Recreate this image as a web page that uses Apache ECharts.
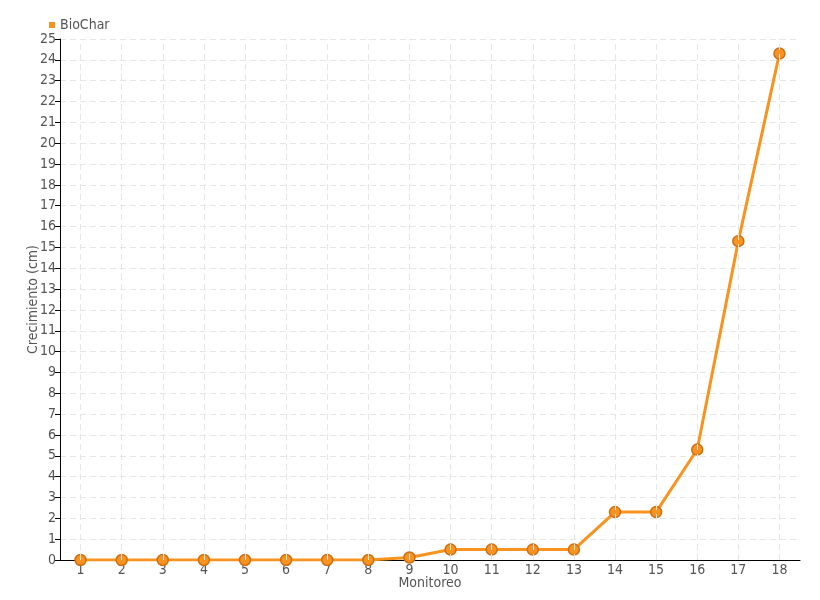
<!DOCTYPE html>
<html><head><meta charset="utf-8">
<script src="https://cdn.jsdelivr.net/npm/echarts@6/dist/echarts.min.js"></script>
<style>html,body{margin:0;padding:0;background:#fff}#c{width:820px;height:600px}</style>
</head><body><div id="c"></div>
<script>
var categories = ['1','2','3','4','5','6','7','8','9','10','11','12','13','14','15','16','17','18'];
var biochar = [0,0,0,0,0,0,0,0,0.12,0.5,0.5,0.5,0.5,2.3,2.3,5.3,15.3,24.3];
var seriesName = 'BioChar';
var FONT = "'Liberation Sans Narrow','DejaVu Sans Condensed',sans-serif";
var chart = echarts.init(document.getElementById('c'));
chart.setOption({
  animation:false,
  backgroundColor:'#fff',
  legend:{left:44,top:13,itemWidth:6,itemHeight:6,itemGap:4,icon:'rect',
    itemStyle:{borderWidth:0,color:'#f7931e'},
    textStyle:{fontFamily:FONT,fontSize:14,color:'#555'},data:[seriesName]},
  grid:{left:60,right:20,top:39,bottom:40},
  xAxis:{type:'category',data:categories,boundaryGap:true,
    name:'Monitoreo',nameLocation:'middle',nameGap:16,nameMoveOverlap:false,
    nameTextStyle:{fontFamily:FONT,fontSize:14,color:'#555'},
    axisLine:{lineStyle:{color:'#000',width:1}},
    axisTick:{alignWithLabel:true,length:5,lineStyle:{color:'#000'}},
    axisLabel:{fontFamily:FONT,fontSize:14,color:'#555',margin:3},
    splitLine:{show:false}},
  yAxis:{type:'value',min:0,max:25,interval:1,
    name:'Crecimiento (cm)',nameLocation:'middle',nameGap:20,nameMoveOverlap:false,
    nameTextStyle:{fontFamily:FONT,fontSize:14,color:'#555'},
    axisLine:{show:true,lineStyle:{color:'#000',width:1}},
    axisTick:{show:true,length:5,inside:false,lineStyle:{color:'#000'}},
    axisLabel:{fontFamily:FONT,fontSize:14,color:'#555',margin:4},
    splitLine:{lineStyle:{color:'#e6e6e6',type:[6,4],width:1}}},
  series:[
    {type:'line',name:'grid',data:[],silent:true,z:0,legendHoverLink:false,
     markLine:{silent:true,symbol:'none',label:{show:false},animation:false,
       lineStyle:{color:'#e6e6e6',type:[6,4],width:1},
       data:categories.map(function(c){return {xAxis:c};})}},
    {type:'line',name:seriesName,data:biochar,symbol:'circle',symbolSize:11,z:3,
     lineStyle:{color:'#f7931e',width:3},
     itemStyle:{color:'#f7931e',borderColor:'#cf6f12',borderWidth:1.5}}
  ]
});
</script></body></html>
